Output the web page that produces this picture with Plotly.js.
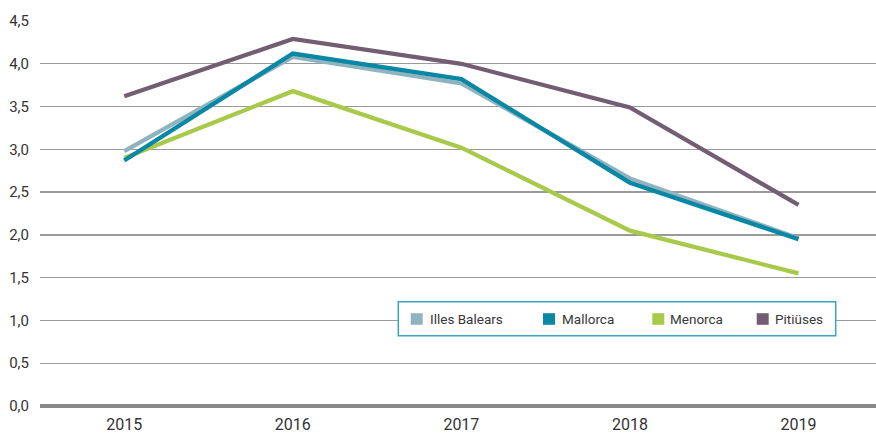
<!DOCTYPE html>
<html><head><meta charset="utf-8">
<script src="https://cdn.plot.ly/plotly-3.0.1.min.js"></script>
<style>html,body{margin:0;padding:0;background:#fff}#chart{width:876px;height:433px}</style>
</head><body><div id="chart"></div>
<script>
const years = ['2015','2016','2017','2018','2019'];
const illesBalears = [2.98, 4.08, 3.77, 2.66, 1.96];
const mallorca = [2.87, 4.12, 3.82, 2.61, 1.95];
const menorca = [2.90, 3.68, 3.02, 2.05, 1.55];
const pitiuses = [3.62, 4.29, 4.00, 3.49, 2.35];
const names = ['Illes Balears','Mallorca','Menorca','Pitiüses'];
const colors = ['#8fb4bf','#0a87a5','#a8c94a','#735d73'];
const series = [illesBalears, mallorca, menorca, pitiuses];

const W = 876, H = 433, L = 40, R = 0, T = 21, B = 27;
const pw = W - L - R, ph = H - T - B;
const px = v => (v - L) / pw;
const py = v => (H - B - v) / ph;

const drawOrder = [3, 2, 0, 1];
const traces = drawOrder.map(i => ({
  type:'scatter', mode:'lines', x: years, y: series[i], name: names[i],
  line:{color: colors[i], width:4.3}, showlegend:false, hoverinfo:'skip'
}));

// manual legend
const sqX = [410.7, 543, 652.3, 756.7];
const txX = [429.3, 561, 669.3, 774];
const shapes = [{
  type:'rect', xref:'paper', yref:'paper', layer:'above',
  x0:px(398.3), x1:px(835.7), y0:py(335.7), y1:py(301.7),
  fillcolor:'#fff', line:{color:'#3ba3bd', width:1.5}
}];
const annotations = [];
names.forEach((n,i) => {
  shapes.push({type:'rect', xref:'paper', yref:'paper', layer:'above',
    x0:px(sqX[i]), x1:px(sqX[i]+12), y0:py(324.8), y1:py(313.2),
    fillcolor:colors[i], line:{width:0}});
  annotations.push({xref:'paper', yref:'paper', x:px(txX[i]), y:py(319.3),
    xanchor:'left', yanchor:'middle', text:n, showarrow:false,
    font:{size:13.5, color:'#383838'}, xshift:-1});
});

const layout = {
  width:W, height:H,
  margin:{l:L, r:R, t:T, b:B},
  paper_bgcolor:'#fff', plot_bgcolor:'#fff',
  separators:',.',
  font:{family:'Roboto, sans-serif', size:15, color:'#333'},
  xaxis:{type:'category', range:[-0.5,4.46], showgrid:false, zeroline:false,
    showline:false, ticks:'', tickfont:{size:16, color:'#333'}, ticklabelstandoff:7},
  yaxis:{range:[0,4.5], dtick:0.5, tick0:0, tickformat:'.1f', showgrid:true,
    gridcolor:'#9a9a9a', gridwidth:1.3, zeroline:true, zerolinecolor:'#8a8a8a',
    zerolinewidth:4, showline:false, ticks:'', tickfont:{size:15, color:'#333'},
    ticklabelstandoff:10},
  shapes: shapes,
  annotations: annotations,
  showlegend:false
};
Plotly.newPlot('chart', traces, layout, {displayModeBar:false, staticPlot:true});
</script></body></html>
